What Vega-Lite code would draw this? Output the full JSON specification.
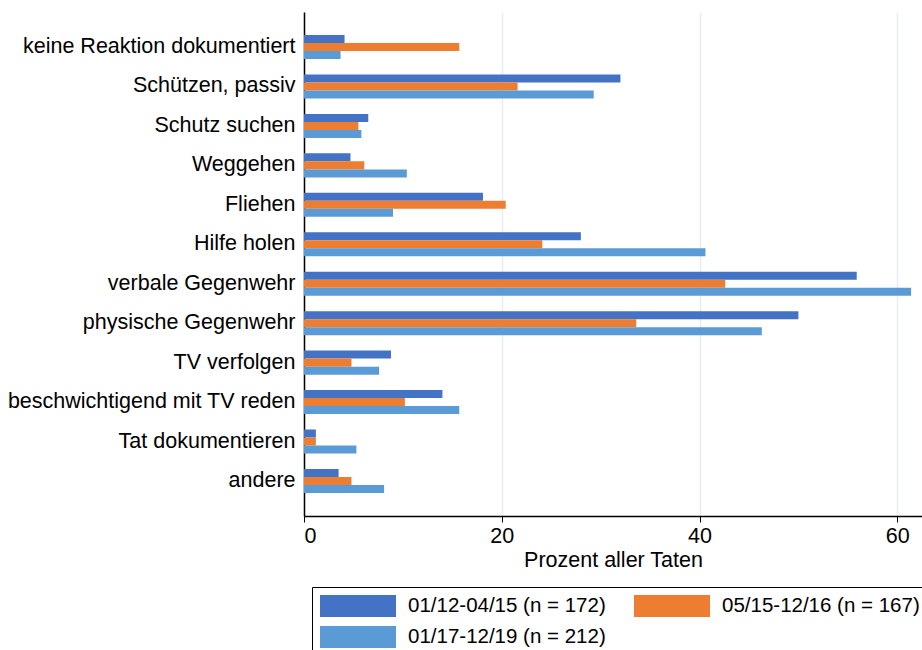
{
  "$schema": "https://vega.github.io/schema/vega-lite/v6.json",
  "autosize": {"type": "none"},
  "padding": {"left": 304, "top": 12, "right": 0, "bottom": 134},
  "width": 618,
  "height": 504,
  "background": "white",
  "config": {
    "view": {"stroke": null},
    "font": "Liberation Sans",
    "axis": {"labelFont": "Liberation Sans", "titleFont": "Liberation Sans", "labelColor": "black", "titleColor": "black", "titleFontWeight": "normal"},
    "legend": {"labelFont": "Liberation Sans"}
  },
  "data": {
    "values": [
      {"cat": "keine Reaktion dokumentiert", "series": "01/12-04/15 (n = 172)", "pct": 4.1},
      {"cat": "keine Reaktion dokumentiert", "series": "05/15-12/16 (n = 167)", "pct": 15.7},
      {"cat": "keine Reaktion dokumentiert", "series": "01/17-12/19 (n = 212)", "pct": 3.7},
      {"cat": "Schützen, passiv", "series": "01/12-04/15 (n = 172)", "pct": 32.0},
      {"cat": "Schützen, passiv", "series": "05/15-12/16 (n = 167)", "pct": 21.6},
      {"cat": "Schützen, passiv", "series": "01/17-12/19 (n = 212)", "pct": 29.3},
      {"cat": "Schutz suchen", "series": "01/12-04/15 (n = 172)", "pct": 6.5},
      {"cat": "Schutz suchen", "series": "05/15-12/16 (n = 167)", "pct": 5.5},
      {"cat": "Schutz suchen", "series": "01/17-12/19 (n = 212)", "pct": 5.8},
      {"cat": "Weggehen", "series": "01/12-04/15 (n = 172)", "pct": 4.7},
      {"cat": "Weggehen", "series": "05/15-12/16 (n = 167)", "pct": 6.1},
      {"cat": "Weggehen", "series": "01/17-12/19 (n = 212)", "pct": 10.4},
      {"cat": "Fliehen", "series": "01/12-04/15 (n = 172)", "pct": 18.1},
      {"cat": "Fliehen", "series": "05/15-12/16 (n = 167)", "pct": 20.4},
      {"cat": "Fliehen", "series": "01/17-12/19 (n = 212)", "pct": 9.0},
      {"cat": "Hilfe holen", "series": "01/12-04/15 (n = 172)", "pct": 28.0},
      {"cat": "Hilfe holen", "series": "05/15-12/16 (n = 167)", "pct": 24.1},
      {"cat": "Hilfe holen", "series": "01/17-12/19 (n = 212)", "pct": 40.6},
      {"cat": "verbale Gegenwehr", "series": "01/12-04/15 (n = 172)", "pct": 55.9},
      {"cat": "verbale Gegenwehr", "series": "05/15-12/16 (n = 167)", "pct": 42.6},
      {"cat": "verbale Gegenwehr", "series": "01/17-12/19 (n = 212)", "pct": 61.4},
      {"cat": "physische Gegenwehr", "series": "01/12-04/15 (n = 172)", "pct": 50.0},
      {"cat": "physische Gegenwehr", "series": "05/15-12/16 (n = 167)", "pct": 33.6},
      {"cat": "physische Gegenwehr", "series": "01/17-12/19 (n = 212)", "pct": 46.3},
      {"cat": "TV verfolgen", "series": "01/12-04/15 (n = 172)", "pct": 8.8},
      {"cat": "TV verfolgen", "series": "05/15-12/16 (n = 167)", "pct": 4.8},
      {"cat": "TV verfolgen", "series": "01/17-12/19 (n = 212)", "pct": 7.6},
      {"cat": "beschwichtigend mit TV reden", "series": "01/12-04/15 (n = 172)", "pct": 14.0},
      {"cat": "beschwichtigend mit TV reden", "series": "05/15-12/16 (n = 167)", "pct": 10.2},
      {"cat": "beschwichtigend mit TV reden", "series": "01/17-12/19 (n = 212)", "pct": 15.7},
      {"cat": "Tat dokumentieren", "series": "01/12-04/15 (n = 172)", "pct": 1.2},
      {"cat": "Tat dokumentieren", "series": "05/15-12/16 (n = 167)", "pct": 1.2},
      {"cat": "Tat dokumentieren", "series": "01/17-12/19 (n = 212)", "pct": 5.3},
      {"cat": "andere", "series": "01/12-04/15 (n = 172)", "pct": 3.5},
      {"cat": "andere", "series": "05/15-12/16 (n = 167)", "pct": 4.8},
      {"cat": "andere", "series": "01/17-12/19 (n = 212)", "pct": 8.1}
    ]
  },
  "mark": {"type": "bar"},
  "encoding": {
    "y": {
      "field": "cat", "type": "nominal", "sort": null,
      "scale": {"paddingInner": 0.39, "paddingOuter": 0.583},
      "axis": {"title": null, "labelFontSize": 21.5, "labelPadding": 9, "ticks": false, "domainColor": "black", "domainWidth": 1.5, "labelLimit": 400}
    },
    "yOffset": {
      "field": "series", "type": "nominal",
      "scale": {"domain": ["01/12-04/15 (n = 172)", "05/15-12/16 (n = 167)", "01/17-12/19 (n = 212)"], "paddingInner": 0, "paddingOuter": 0}
    },
    "x": {
      "field": "pct", "type": "quantitative", "stack": null,
      "scale": {"domain": [0, 62.5], "nice": false},
      "axis": {"title": "Prozent aller Taten", "values": [0, 20, 40, 60], "labelFontSize": 21.5, "titleFontSize": 21.5, "titlePadding": 3, "tickColor": "black", "tickSize": 6, "domainColor": "black", "domainWidth": 1.5, "gridColor": "#e4eeee", "gridWidth": 1.5, "labelPadding": 3}
    },
    "color": {
      "field": "series", "type": "nominal",
      "scale": {"domain": ["01/12-04/15 (n = 172)", "05/15-12/16 (n = 167)", "01/17-12/19 (n = 212)"], "range": ["#4472C4", "#ED7D31", "#5B9BD5"]},
      "legend": {
        "title": null, "orient": "none", "legendX": 8, "legendY": 575,
        "direction": "horizontal", "columns": 2,
        "symbolType": "M-1,-1H5.909V1H-1Z", "symbolSize": 484, "symbolStrokeWidth": 0,
        "labelFontSize": 20.5, "labelOffset": 66, "labelColor": "black",
        "rowPadding": 9, "columnPadding": 28, "padding": 8,
        "strokeColor": "black", "fillColor": "white", "cornerRadius": 0,
        "labelLimit": 400
      }
    }
  }
}
